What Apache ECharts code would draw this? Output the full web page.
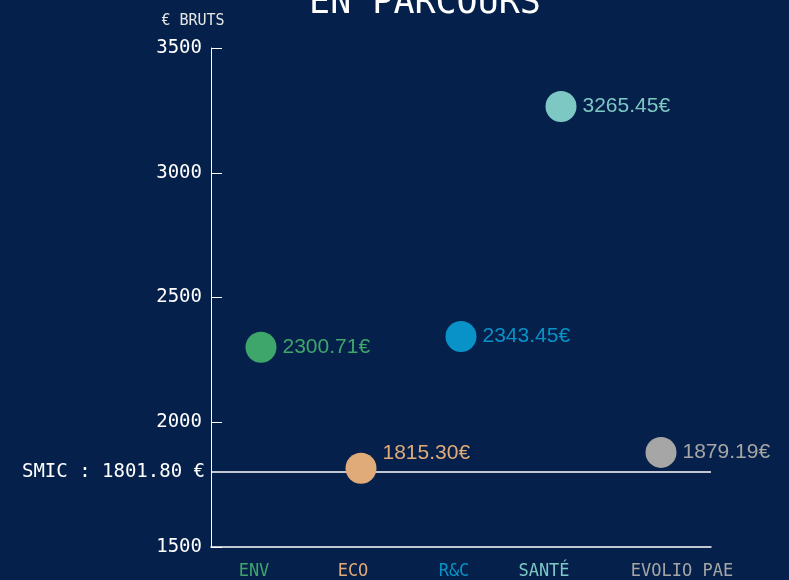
<!DOCTYPE html>
<html>
<head>
<meta charset="utf-8">
<script src="https://cdn.jsdelivr.net/npm/echarts@6/dist/echarts.min.js"></script>
<style>
    html, body { margin: 0; padding: 0; background: #05204a; }
    #chart { width: 789px; height: 580px; }
</style>
</head>
<body>
<div id="chart"></div>
<script>
// données
let categories = ['ENV', 'ECO', 'R&C', 'SANTÉ', 'EVOLIO PAE'];
let salaires = [2300.71, 1815.30, 2343.45, 3265.45, 1879.19];
let couleurs = ['#3fa66b', '#e0ab78', '#0892c8', '#7ec8c4', '#a6a6a6'];
let smic = 1801.80;
let yTicks = [1500, 2000, 2500, 3000, 3500];

let mono = '"DejaVu Sans Mono", monospace';

// léger décalage horizontal des libellés de l'axe x (comme l'original)
let decalageLabels = [-14, -16, -14, -34, 42];

let xData = categories.map(function (c, i) {
    let d = decalageLabels[i];
    return {
        value: c,
        textStyle: {
            color: couleurs[i],
            padding: d < 0 ? [0, -d, 0, 0] : [0, 0, 0, d]
        }
    };
});

let points = salaires.map(function (v, i) {
    return {
        value: v,
        itemStyle: { color: couleurs[i], opacity: 1 },
        label: { color: couleurs[i] }
    };
});

let chart = echarts.init(document.getElementById('chart'));
chart.setOption({
    backgroundColor: '#05204a',
    animation: false,
    grid: { left: 211, right: 78, top: 48, bottom: 32 },
    graphic: [{
        type: 'text',
        x: 425,
        y: -14,
        style: {
            text: 'EN PARCOURS',
            fill: '#ffffff',
            align: 'center',
            font: '35px ' + mono
        }
    }, {
        type: 'text',
        x: 193,
        y: 14,
        style: {
            text: '€ BRUTS',
            fill: '#e6e6e6',
            align: 'center',
            font: '15px ' + mono
        }
    }],
    xAxis: {
        type: 'category',
        data: xData,
        axisLine: { lineStyle: { color: '#ffffff', width: 1.5 } },
        axisTick: { show: false },
        axisLabel: {
            interval: 0,
            margin: 16,
            fontFamily: mono,
            fontSize: 17
        }
    },
    yAxis: {
        type: 'value',
        min: yTicks[0],
        max: yTicks[yTicks.length - 1],
        interval: 500,
        splitLine: { show: false },
        axisLine: { show: true, lineStyle: { color: '#ffffff', width: 1 } },
        axisTick: { show: true, inside: true, length: 11, lineStyle: { color: '#ffffff' } },
        axisLabel: {
            color: '#ffffff',
            fontFamily: mono,
            fontSize: 19,
            margin: 9,
            formatter: function (v) { return String(v); }
        }
    },
    series: [{
        type: 'scatter',
        data: points,
        symbolSize: 31,
        label: {
            show: true,
            position: 'right',
            distance: 6,
            fontFamily: '"Liberation Sans", Arial, sans-serif',
            fontSize: 21,
            formatter: function (p) { return p.value.toFixed(2) + '€'; }
        },
        // ECO : étiquette remontée au-dessus de la ligne SMIC
        labelLayout: function (params) {
            if (params.dataIndex === 1) return { dy: -15, hideOverlap: false };
            return { hideOverlap: false };
        },
        markLine: {
            silent: true,
            symbol: ['none', 'none'],
            lineStyle: { color: '#ffffff', type: 'solid', width: 1.5, opacity: 1 },
            label: {
                position: 'start',
                distance: 6,
                color: '#ffffff',
                fontFamily: mono,
                fontSize: 19,
                formatter: 'SMIC : ' + smic.toFixed(2) + ' €'
            },
            data: [{ yAxis: smic }],
            z: 1
        },
        z: 3
    }]
});
</script>
</body>
</html>
